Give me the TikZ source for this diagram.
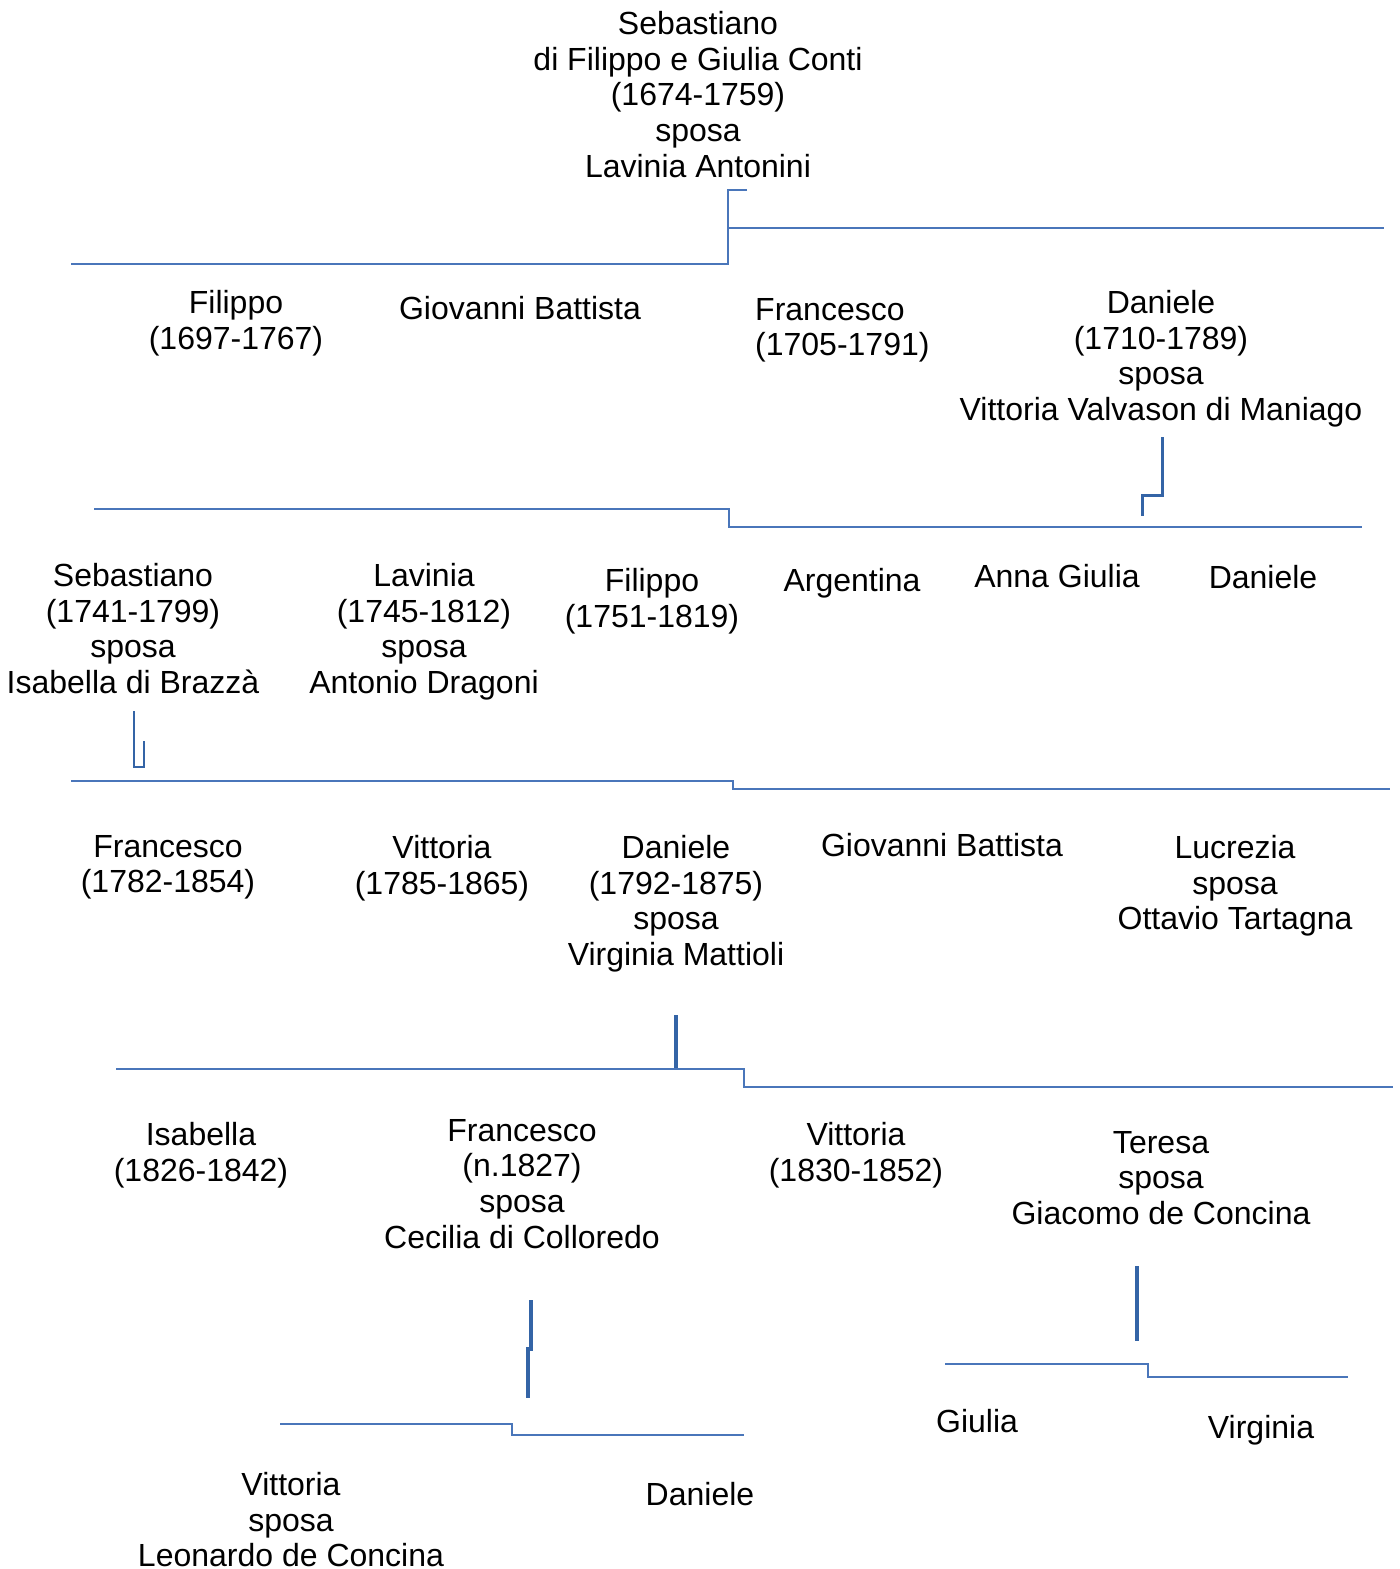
\documentclass[tikz,border=0pt]{standalone}
\usepackage{fontspec}
\setmainfont{Liberation Sans}
\definecolor{thinblue}{RGB}{74,118,186}
\definecolor{thickblue}{RGB}{52,100,166}
\begin{document}
\begin{tikzpicture}[x=1pt,y=-1pt,
  person/.style={font=\fontsize{32}{35.7}\selectfont, align=center, inner sep=0pt, anchor=north, text=black},
  bar/.style={draw=thinblue, line width=1.5pt},
  link/.style={draw=thickblue, line width=3pt}]
\useasboundingbox (0,0) rectangle (1400,1569);
% generation 0
\node[person] (seb0) at (698,11) {Sebastiano\\di Filippo e Giulia Conti\\(1674-1759)\\sposa\\Lavinia Antonini};
% generation 1
\node[person] (fil1) at (236,290) {Filippo\\(1697-1767)};
\node[person] (gio1) at (520,296) {Giovanni Battista};
\node[person, anchor=north west, align=left] (fra1) at (755,298) {Francesco\\(1705-1791)};
\node[person] (dan1) at (1161,290) {Daniele\\(1710-1789)\\sposa\\Vittoria Valvason di Maniago};
% generation 2
\node[person] (seb2) at (133,563) {Sebastiano\\(1741-1799)\\sposa\\Isabella di Brazzà};
\node[person] (lav2) at (424,563) {Lavinia\\(1745-1812)\\sposa\\Antonio Dragoni};
\node[person] (fil2) at (652,568) {Filippo\\(1751-1819)};
\node[person] (arg2) at (852,568) {Argentina};
\node[person] (ann2) at (1057,564) {Anna Giulia};
\node[person] (dan2) at (1263,565) {Daniele};
% generation 3
\node[person] (fra3) at (168,835) {Francesco\\(1782-1854)};
\node[person] (vit3) at (442,835) {Vittoria\\(1785-1865)};
\node[person] (dan3) at (676,835) {Daniele\\(1792-1875)\\sposa\\Virginia Mattioli};
\node[person] (gio3) at (942,833) {Giovanni Battista};
\node[person] (luc3) at (1235,835) {Lucrezia\\sposa\\Ottavio Tartagna};
% generation 4
\node[person] (isa4) at (201,1122) {Isabella\\(1826-1842)};
\node[person] (fra4) at (522,1119) {Francesco\\(n.1827)\\sposa\\Cecilia di Colloredo};
\node[person] (vit4) at (856,1122) {Vittoria\\(1830-1852)};
\node[person] (ter4) at (1161,1131) {Teresa\\sposa\\Giacomo de Concina};
% generation 5
\node[person] (vit5) at (291,1472) {Vittoria\\sposa\\Leonardo de Concina};
\node[person] (dan5) at (700,1482) {Daniele};
\node[person] (giu5) at (977,1409) {Giulia};
\node[person] (vir5) at (1261,1415) {Virginia};
% connector coordinates
\coordinate (a1) at (747,190); \coordinate (a2) at (728,190);
\coordinate (a3) at (728,264); \coordinate (a4) at (71,264);
\coordinate (a5) at (728,228); \coordinate (a6) at (1384,228);
\coordinate (b1) at (94,509); \coordinate (b2) at (729,509);
\coordinate (b3) at (729,527); \coordinate (b4) at (1362,527);
\coordinate (c1) at (1162,437); \coordinate (c2) at (1162,495);
\coordinate (c3) at (1142,495); \coordinate (c4) at (1142,516);
\coordinate (d1) at (134,711); \coordinate (d2) at (134,767);
\coordinate (d3) at (144,767); \coordinate (d4) at (144,741);
\coordinate (e1) at (71,781); \coordinate (e2) at (733,781);
\coordinate (e3) at (733,789); \coordinate (e4) at (1390,789);
\coordinate (f1) at (676,1015); \coordinate (f2) at (676,1069);
\coordinate (g1) at (116,1069); \coordinate (g2) at (744,1069);
\coordinate (g3) at (744,1087); \coordinate (g4) at (1393,1087);
\coordinate (h1) at (531,1300); \coordinate (h2) at (531,1349);
\coordinate (h3) at (528,1349); \coordinate (h4) at (528,1398);
\coordinate (i1) at (280,1424); \coordinate (i2) at (512,1424);
\coordinate (i3) at (512,1435); \coordinate (i4) at (744,1435);
\coordinate (j1) at (1137,1266); \coordinate (j2) at (1137,1341);
\coordinate (k1) at (945,1364); \coordinate (k2) at (1148,1364);
\coordinate (k3) at (1148,1377); \coordinate (k4) at (1348,1377);
% connectors
\draw[bar] (a1) -- (a2) -- (a3) -- (a4);
\draw[bar] (a5) -- (a6);
\draw[bar] (b1) -- (b2) -- (b3) -- (b4);
\draw[link] (c1) -- (c2) -- (c3) -- (c4);
\draw[link, line width=2.5pt] (d1) -- (d2) -- (d3) -- (d4);
\draw[bar] (e1) -- (e2) -- (e3) -- (e4);
\draw[link, line width=4pt] (f1) -- (f2);
\draw[bar] (g1) -- (g2) -- (g3) -- (g4);
\draw[link, line width=3.5pt] (h1) -- (h2) -- (h3) -- (h4);
\draw[bar] (i1) -- (i2) -- (i3) -- (i4);
\draw[link, line width=4pt] (j1) -- (j2);
\draw[bar] (k1) -- (k2) -- (k3) -- (k4);
\end{tikzpicture}
\end{document}
